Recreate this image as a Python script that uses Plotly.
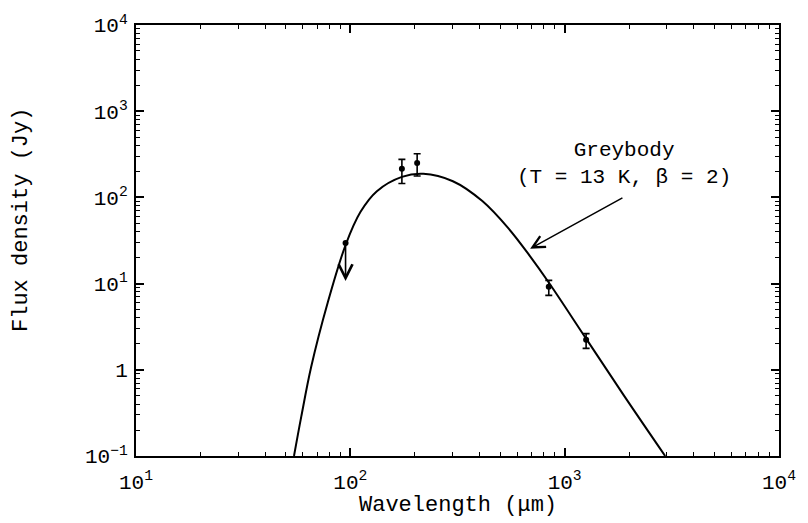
import math
import plotly.graph_objects as go

# ---- data ----
det_wavelength = [174, 205, 843, 1259]          # micron
det_flux = [215, 251, 9.2, 2.23]                 # Jy
det_err_hi = [61, 70, 1.7, 0.40]
det_err_lo = [70, 74, 1.9, 0.46]

ul_wavelength = [95]
ul_flux = [29.5]
ul_arrow_end = [10.7]

curve_wavelength = [54.6, 59.0, 65.6, 78.4, 95.1, 111.6, 133, 174, 219, 301,
                    413, 548, 690, 843, 1259, 1888, 2944]
curve_flux = [0.1, 0.284, 1.07, 6.0, 28.2, 68, 118, 173, 188, 154,
              90.6, 43.4, 20.7, 10.3, 2.3, 0.505, 0.1]

x_tick_vals = [10, 100, 1000, 10000]
x_tick_text = ["10<sup>1</sup>", "10<sup>2</sup>", "10<sup>3</sup>", "10<sup>4</sup>"]
y_tick_vals = [0.1, 1, 10, 100, 1000, 10000]
y_tick_text = ["10<sup>\u22121</sup>", "1", "10<sup>1</sup>", "10<sup>2</sup>",
               "10<sup>3</sup>", "10<sup>4</sup>"]

model_label = "Greybody<br>(T = 13 K, \u03b2 = 2)"
model_pointer = {"tip": (690, 25.4), "tail": (1890, 101)}

FONT = "Liberation Mono"

x_minor = [m * 10 ** d for d in range(1, 4) for m in range(2, 10)]
y_minor = [m * 10 ** d for d in range(-1, 4) for m in range(2, 10)]

fig = go.Figure()

fig.add_trace(go.Scatter(
    x=curve_wavelength, y=curve_flux, mode="lines",
    line=dict(color="black", width=2, shape="spline", smoothing=1.0),
    showlegend=False, hoverinfo="skip"))

fig.add_trace(go.Scatter(
    x=det_wavelength, y=det_flux, mode="markers",
    marker=dict(color="black", size=6),
    error_y=dict(type="data", symmetric=False, array=det_err_hi,
                 arrayminus=det_err_lo, color="black", thickness=1.6, width=3.5),
    showlegend=False))

fig.add_trace(go.Scatter(
    x=ul_wavelength, y=ul_flux, mode="markers",
    marker=dict(color="black", size=6), showlegend=False))

annotations = []
for xw, yf, ye in zip(ul_wavelength, ul_flux, ul_arrow_end):
    annotations.append(dict(
        x=math.log10(xw), y=math.log10(ye), ax=math.log10(xw), ay=math.log10(yf),
        xref="x", yref="y", axref="x", ayref="y", text="", showarrow=True,
        arrowhead=5, arrowsize=1.7, arrowwidth=1.6, arrowcolor="black"))

tip, tail = model_pointer["tip"], model_pointer["tail"]
annotations.append(dict(
    x=math.log10(tip[0]), y=math.log10(tip[1]),
    ax=math.log10(tail[0]), ay=math.log10(tail[1]),
    xref="x", yref="y", axref="x", ayref="y", text="", showarrow=True,
    arrowhead=5, arrowsize=1.6, arrowwidth=1.5, arrowcolor="black"))

annotations.append(dict(
    x=math.log10(1900), y=math.log10(245), xref="x", yref="y",
    text=model_label, showarrow=False, xanchor="center", yanchor="middle",
    font=dict(family=FONT, size=21, color="black")))

annotations.append(dict(
    x=0.5, y=-0.115, xref="paper", yref="paper", text="Wavelength (\u03bcm)",
    showarrow=False, xanchor="center", yanchor="middle",
    font=dict(family=FONT, size=22, color="black")))

annotations.append(dict(
    x=-0.177, y=0.548, xref="paper", yref="paper", text="Flux density (Jy)",
    showarrow=False, xanchor="center", yanchor="middle", textangle=-90,
    font=dict(family=FONT, size=22, color="black")))

axis_common = dict(
    type="log", showline=True, linewidth=2, linecolor="black", mirror="allticks",
    ticks="inside", ticklen=8, tickwidth=1.5, tickcolor="black",
    showgrid=False, zeroline=False,
    tickfont=dict(family=FONT, size=21, color="black"))

fig.update_layout(
    width=808, height=523,
    margin=dict(l=136, r=23, t=22, b=67),
    paper_bgcolor="white", plot_bgcolor="white",
    xaxis=dict(axis_common, range=[1, 4], tickmode="array",
               tickvals=x_tick_vals, ticktext=x_tick_text, ticklabelstandoff=6,
               minor=dict(ticks="inside", ticklen=4, tickwidth=1.2,
                          tickcolor="black", tickmode="array", tickvals=x_minor)),
    yaxis=dict(axis_common, range=[-1, 4], tickmode="array",
               tickvals=y_tick_vals, ticktext=y_tick_text, ticklabelstandoff=2,
               minor=dict(ticks="inside", ticklen=4, tickwidth=1.2,
                          tickcolor="black", tickmode="array", tickvals=y_minor)),
    annotations=annotations,
)

fig.write_html("out.html")
